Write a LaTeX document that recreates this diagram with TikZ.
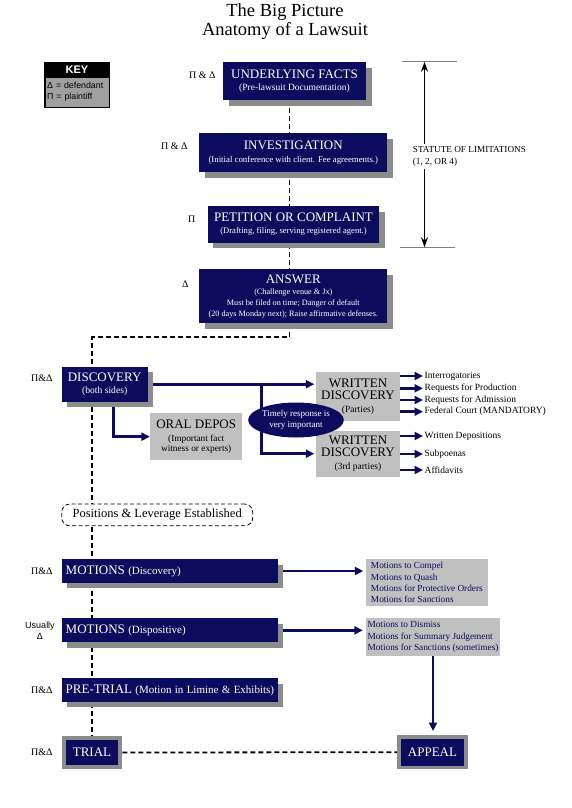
\documentclass[tikz,border=0pt]{standalone}
\usepackage{fontspec}
\setmainfont{Liberation Serif}
\setsansfont{Liberation Sans}
\usetikzlibrary{positioning,arrows.meta,shadows,shapes.geometric,backgrounds}
\definecolor{suitnavy}{HTML}{0C0C5E}
\definecolor{shadegray}{HTML}{8C8C8C}
\definecolor{panelgray}{HTML}{C0C0C0}
\definecolor{keygray}{HTML}{A0A0A0}
\definecolor{bargray}{HTML}{808080}
\newcommand{\hdfont}{\fontsize{13}{13}\selectfont}
\newcommand{\pfont}{\fontsize{11}{13}\selectfont}

\begin{document}
\begin{tikzpicture}[x=1pt,y=-1pt,
    stage/.style={fill=suitnavy,text=white,inner sep=0pt,align=center,
      drop shadow={shadow xshift=5.5pt,shadow yshift=-5.5pt,fill=shadegray,opacity=1}},
    wide/.style={stage,align=left,text width=208pt,inner xsep=4pt,minimum height=23.4pt},
    panel/.style={fill=panelgray,inner sep=0pt,align=center},
    framed/.style={fill=suitnavy,text=white,draw=shadegray,inner sep=0pt,font=\hdfont},
    tag/.style={font=\fontsize{10}{12}\selectfont},
    item/.style={font=\fontsize{9.5}{11}\selectfont,inner sep=1.5pt},
    flow/.style={draw=suitnavy,line width=2.6pt,-{Triangle[length=8.5pt,width=8pt]}},
    spine/.style={draw=black,line width=1.8pt,dash pattern=on 5pt off 3pt}]
  \useasboundingbox (0,0) rectangle (571,808);

  % Title and key
  \node[font=\fontsize{18.5}{19.5}\selectfont,align=center] (title) at (285,21.5)
    {The Big Picture\\Anatomy of a Lawsuit};
  \node[fill=black,minimum width=66pt,minimum height=46pt,inner sep=0pt] (key) at (77,85.3) {};
  \node[text=white,font=\sffamily\bfseries\fontsize{11}{12}\selectfont] (keyhead) at (77,70) {KEY};
  \node[fill=keygray,minimum width=63pt,minimum height=29pt,inner sep=0pt,align=left,
    text width=60pt,font=\sffamily\fontsize{8.8}{11}\selectfont] (keybody) at (77.2,92.2)
    {Δ = defendant\\Π = plaintiff};

  % Before the suit
  \node[stage,minimum width=143pt,minimum height=37.7pt,font=\fontsize{9.5}{12.5}\selectfont] (uf) at (294.5,81.2)
    {{\hdfont UNDERLYING FACTS}\\(Pre-lawsuit Documentation)};
  \node[stage,minimum width=188pt,minimum height=39pt,font=\fontsize{8.8}{12.5}\selectfont] (inv) at (293.3,152.8)
    {{\hdfont INVESTIGATION}\\(Initial conference with client. Fee agreements.)};
  \node[stage,minimum width=171.6pt,minimum height=36.7pt,font=\fontsize{8.6}{12}\selectfont] (pet) at (293.5,224.4)
    {{\hdfont PETITION OR COMPLAINT}\\(Drafting, filing, serving registered agent.)};
  \node[stage,minimum width=188pt,minimum height=54pt,font=\fontsize{8.2}{11}\selectfont] (ans) at (293.3,296.3)
    {{\hdfont ANSWER}\\(Challenge venue \& Jx)\\Must be filed on time; Danger of default\\(20 days Monday next); Raise affirmative defenses.};
  \node[tag,anchor=east] (ufTag) at (219,75) {Π \& Δ};
  \node[tag,anchor=east] (invTag) at (191,146) {Π \& Δ};
  \node[tag,anchor=east] (petTag) at (199,219) {Π};
  \node[tag,anchor=east] (ansTag) at (192,284) {Δ};

  % Statute of limitations
  \coordinate (solTop) at (424.5,61.7);
  \coordinate (solBot) at (424.5,247.3);
  \draw[bargray,line width=1.5pt] ([xshift=-23pt]solTop) -- ([xshift=32.5pt]solTop);
  \draw[bargray,line width=1.5pt] ([xshift=-25pt]solBot) -- ([xshift=30.5pt]solBot);
  \draw[line width=1.4pt,{Stealth[length=10pt,width=7pt]}-{Stealth[length=10pt,width=7pt]}] (solTop) -- (solBot);
  \node[fill=white,anchor=west,align=left,inner sep=2pt,font=\fontsize{9.2}{12.5}\selectfont] (sol) at (410.7,156.3)
    {STATUTE OF LIMITATIONS\\(1, 2, OR 4)};

  % Discovery
  \node[stage,minimum width=86pt,minimum height=35pt,font=\fontsize{9.6}{12.2}\selectfont] (disc) at (104.7,384.2)
    {{\hdfont DISCOVERY}\\(both sides)};
  \node[tag,anchor=east] (discTag) at (56,378) {Π\&Δ};
  \node[panel,minimum width=92.3pt,minimum height=46.7pt,font=\fontsize{9.3}{10.5}\selectfont] (oral) at (196.2,436.7)
    {{\hdfont ORAL DEPOS}\\[2pt](Important fact\\witness or experts)};
  \node[panel,minimum width=84pt,minimum height=49.3pt,font=\fontsize{9.5}{12.5}\selectfont] (wdp) at (358,396.4)
    {{\hdfont WRITTEN}\\{\hdfont DISCOVERY}\\(Parties)};
  \node[panel,minimum width=84pt,minimum height=46pt,font=\fontsize{9.5}{12.5}\selectfont] (wd3) at (358,453.7)
    {{\hdfont WRITTEN}\\{\hdfont DISCOVERY}\\(3rd parties)};
  \node[ellipse,fill=suitnavy,text=white,minimum width=87pt,minimum height=35pt,inner sep=0pt,
    align=center,font=\fontsize{9}{11}\selectfont] (timely) at (296,420)
    {Timely response is\\very important};
  \coordinate (fork) at (261.7,384.2);
  \foreach \y/\txt [count=\i] in {376/Interrogatories,388.3/Requests for Production,
      400/Requests for Admission,411.7/Federal Court (MANDATORY)} {
    \node[item,anchor=west] (wdp\i) at (423,\y) {\txt};
    \draw[flow] (wdp.east |- wdp\i.west) -- (wdp\i.west);
  }
  \foreach \y/\txt [count=\i] in {436/Written Depositions,454/Subpoenas,470/Affidavits} {
    \node[item,anchor=west] (wd3\i) at (423,\y) {\txt};
    \draw[flow] (wd3.east |- wd3\i.west) -- (wd3\i.west);
  }

  % Positions
  \node[draw,dash pattern=on 4pt off 2.5pt,line width=0.8pt,rounded corners=8pt,fill=white,
    minimum width=191pt,minimum height=21.7pt,inner sep=0pt,font=\fontsize{12.5}{13}\selectfont] (pos) at (157.2,514.9)
    {Positions \& Leverage Established};

  % Motions and trial
  \node[wide] (motd) at (169.7,571) {\mbox{\hdfont MOTIONS \pfont (Discovery)}};
  \node[wide,minimum height=24pt] (motx) at (169.7,630.3) {\mbox{\hdfont MOTIONS \pfont (Dispositive)}};
  \node[wide] (pre) at (169.7,690) {\mbox{\hdfont PRE-TRIAL \pfont (Motion in Limine \& Exhibits)}};
  \node[tag,anchor=east] (motdTag) at (56,571) {Π\&Δ};
  \node[font=\sffamily\fontsize{9}{11}\selectfont,align=center] (motxTag) at (40,630.5) {Usually\\Δ};
  \node[tag,anchor=east] (preTag) at (56,690.7) {Π\&Δ};
  \node[tag,anchor=east] (trialTag) at (56,752.7) {Π\&Δ};
  \node[panel,align=left,inner xsep=4pt,minimum width=121.7pt,minimum height=46.4pt,text=suitnavy,
    font=\fontsize{9.3}{11.3}\selectfont] (list1) at (426.9,582.5)
    {Motions to Compel\\Motions to Quash\\Motions for Protective Orders\\Motions for Sanctions};
  \node[panel,align=left,inner xsep=2pt,minimum width=134pt,minimum height=37.7pt,text=suitnavy,
    font=\fontsize{9.3}{11.5}\selectfont] (list2) at (433,637.2)
    {Motions to Dismiss\\Motions for Summary Judgement\\Motions for Sanctions (sometimes)};
  \node[framed,line width=4pt,minimum width=56.6pt,minimum height=29.6pt] (trial) at (92,752.5) {TRIAL};
  \node[framed,line width=3.5pt,minimum width=66.9pt,minimum height=30.8pt] (appeal) at (432.5,752.2) {APPEAL};

  % Connectors
  \coordinate (s1) at (289.5,100);
  \coordinate (s2) at (289.5,337.3);
  \begin{scope}[on background layer]
    \draw[spine] (s1) -- (s2) -| (trial.north);
    \draw[spine] (trial.east) -- (appeal.west);
    \draw[flow,shorten >=1.5pt] (disc.east) -- (disc.east -| wdp.west);
    \draw[flow,shorten >=1.5pt] (fork) |- (wd3.west);
    \draw[flow] ([xshift=8.6pt]disc.south) |- (oral.west);
    \draw[flow,shorten >=2.5pt] (motd.east) -- (motd.east -| list1.west);
    \draw[flow,shorten >=2.5pt] (motx.east) -- (motx.east -| list2.west);
    \draw[flow,shorten >=4pt] (list2.south) -- (list2.south |- appeal.north);
  \end{scope}
\end{tikzpicture}
\end{document}
